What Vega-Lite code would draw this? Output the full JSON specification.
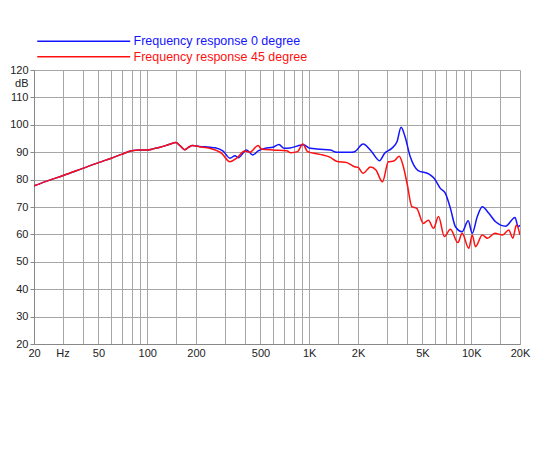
{
  "$schema": "https://vega.github.io/schema/vega-lite/v6.json",
  "width": 486,
  "height": 274,
  "autosize": {"type": "none"},
  "padding": {"left": 34, "top": 70, "right": 30, "bottom": 106},
  "background": "white",
  "data": {
    "values": [
      {"f": 20, "db": 77.7, "s": "Frequency response 0 degree"},
      {"f": 25, "db": 79.8, "s": "Frequency response 0 degree"},
      {"f": 30, "db": 81.4, "s": "Frequency response 0 degree"},
      {"f": 40, "db": 84.1, "s": "Frequency response 0 degree"},
      {"f": 50, "db": 86.2, "s": "Frequency response 0 degree"},
      {"f": 60, "db": 87.8, "s": "Frequency response 0 degree"},
      {"f": 70, "db": 89.3, "s": "Frequency response 0 degree"},
      {"f": 80, "db": 90.5, "s": "Frequency response 0 degree"},
      {"f": 90, "db": 90.8, "s": "Frequency response 0 degree"},
      {"f": 100, "db": 90.8, "s": "Frequency response 0 degree"},
      {"f": 110, "db": 91.3, "s": "Frequency response 0 degree"},
      {"f": 120, "db": 91.8, "s": "Frequency response 0 degree"},
      {"f": 130, "db": 92.4, "s": "Frequency response 0 degree"},
      {"f": 140, "db": 93.1, "s": "Frequency response 0 degree"},
      {"f": 150, "db": 93.5, "s": "Frequency response 0 degree"},
      {"f": 160, "db": 92.3, "s": "Frequency response 0 degree"},
      {"f": 170, "db": 90.9, "s": "Frequency response 0 degree"},
      {"f": 180, "db": 91.8, "s": "Frequency response 0 degree"},
      {"f": 190, "db": 92.4, "s": "Frequency response 0 degree"},
      {"f": 210, "db": 92.1, "s": "Frequency response 0 degree"},
      {"f": 244, "db": 91.8, "s": "Frequency response 0 degree"},
      {"f": 262, "db": 91.6, "s": "Frequency response 0 degree"},
      {"f": 294, "db": 90.4, "s": "Frequency response 0 degree"},
      {"f": 324, "db": 87.8, "s": "Frequency response 0 degree"},
      {"f": 348, "db": 88.7, "s": "Frequency response 0 degree"},
      {"f": 365, "db": 88.0, "s": "Frequency response 0 degree"},
      {"f": 410, "db": 90.8, "s": "Frequency response 0 degree"},
      {"f": 449, "db": 89.0, "s": "Frequency response 0 degree"},
      {"f": 484, "db": 90.5, "s": "Frequency response 0 degree"},
      {"f": 531, "db": 91.4, "s": "Frequency response 0 degree"},
      {"f": 598, "db": 91.8, "s": "Frequency response 0 degree"},
      {"f": 650, "db": 92.8, "s": "Frequency response 0 degree"},
      {"f": 700, "db": 91.4, "s": "Frequency response 0 degree"},
      {"f": 760, "db": 91.5, "s": "Frequency response 0 degree"},
      {"f": 846, "db": 92.3, "s": "Frequency response 0 degree"},
      {"f": 922, "db": 92.7, "s": "Frequency response 0 degree"},
      {"f": 1011, "db": 91.4, "s": "Frequency response 0 degree"},
      {"f": 1164, "db": 91.1, "s": "Frequency response 0 degree"},
      {"f": 1350, "db": 90.8, "s": "Frequency response 0 degree"},
      {"f": 1473, "db": 90.0, "s": "Frequency response 0 degree"},
      {"f": 1785, "db": 90.0, "s": "Frequency response 0 degree"},
      {"f": 1906, "db": 90.2, "s": "Frequency response 0 degree"},
      {"f": 2150, "db": 93.0, "s": "Frequency response 0 degree"},
      {"f": 2430, "db": 90.2, "s": "Frequency response 0 degree"},
      {"f": 2715, "db": 86.9, "s": "Frequency response 0 degree"},
      {"f": 2920, "db": 89.6, "s": "Frequency response 0 degree"},
      {"f": 3230, "db": 91.4, "s": "Frequency response 0 degree"},
      {"f": 3480, "db": 93.8, "s": "Frequency response 0 degree"},
      {"f": 3690, "db": 99.1, "s": "Frequency response 0 degree"},
      {"f": 3900, "db": 95.7, "s": "Frequency response 0 degree"},
      {"f": 4200, "db": 88.4, "s": "Frequency response 0 degree"},
      {"f": 4700, "db": 83.3, "s": "Frequency response 0 degree"},
      {"f": 5490, "db": 82.0, "s": "Frequency response 0 degree"},
      {"f": 5900, "db": 80.5, "s": "Frequency response 0 degree"},
      {"f": 6445, "db": 76.8, "s": "Frequency response 0 degree"},
      {"f": 6925, "db": 75.0, "s": "Frequency response 0 degree"},
      {"f": 7440, "db": 69.5, "s": "Frequency response 0 degree"},
      {"f": 7990, "db": 62.8, "s": "Frequency response 0 degree"},
      {"f": 8790, "db": 61.0, "s": "Frequency response 0 degree"},
      {"f": 9580, "db": 65.0, "s": "Frequency response 0 degree"},
      {"f": 10140, "db": 60.4, "s": "Frequency response 0 degree"},
      {"f": 10900, "db": 66.5, "s": "Frequency response 0 degree"},
      {"f": 11700, "db": 70.1, "s": "Frequency response 0 degree"},
      {"f": 12850, "db": 67.7, "s": "Frequency response 0 degree"},
      {"f": 14140, "db": 64.6, "s": "Frequency response 0 degree"},
      {"f": 16330, "db": 63.0, "s": "Frequency response 0 degree"},
      {"f": 18620, "db": 66.2, "s": "Frequency response 0 degree"},
      {"f": 19500, "db": 62.8, "s": "Frequency response 0 degree"},
      {"f": 20000, "db": 63.4, "s": "Frequency response 0 degree"},
      {"f": 20, "db": 77.7, "s": "Frequency response 45 degree"},
      {"f": 25, "db": 79.8, "s": "Frequency response 45 degree"},
      {"f": 30, "db": 81.4, "s": "Frequency response 45 degree"},
      {"f": 40, "db": 84.1, "s": "Frequency response 45 degree"},
      {"f": 50, "db": 86.2, "s": "Frequency response 45 degree"},
      {"f": 60, "db": 87.8, "s": "Frequency response 45 degree"},
      {"f": 70, "db": 89.3, "s": "Frequency response 45 degree"},
      {"f": 80, "db": 90.5, "s": "Frequency response 45 degree"},
      {"f": 90, "db": 90.8, "s": "Frequency response 45 degree"},
      {"f": 100, "db": 90.8, "s": "Frequency response 45 degree"},
      {"f": 110, "db": 91.3, "s": "Frequency response 45 degree"},
      {"f": 120, "db": 91.8, "s": "Frequency response 45 degree"},
      {"f": 130, "db": 92.4, "s": "Frequency response 45 degree"},
      {"f": 140, "db": 93.1, "s": "Frequency response 45 degree"},
      {"f": 150, "db": 93.5, "s": "Frequency response 45 degree"},
      {"f": 160, "db": 92.3, "s": "Frequency response 45 degree"},
      {"f": 170, "db": 90.9, "s": "Frequency response 45 degree"},
      {"f": 180, "db": 91.8, "s": "Frequency response 45 degree"},
      {"f": 190, "db": 92.4, "s": "Frequency response 45 degree"},
      {"f": 210, "db": 92.0, "s": "Frequency response 45 degree"},
      {"f": 244, "db": 91.4, "s": "Frequency response 45 degree"},
      {"f": 288, "db": 89.6, "s": "Frequency response 45 degree"},
      {"f": 324, "db": 86.5, "s": "Frequency response 45 degree"},
      {"f": 356, "db": 87.8, "s": "Frequency response 45 degree"},
      {"f": 400, "db": 90.4, "s": "Frequency response 45 degree"},
      {"f": 429, "db": 90.0, "s": "Frequency response 45 degree"},
      {"f": 484, "db": 92.4, "s": "Frequency response 45 degree"},
      {"f": 506, "db": 91.2, "s": "Frequency response 45 degree"},
      {"f": 598, "db": 90.8, "s": "Frequency response 45 degree"},
      {"f": 727, "db": 90.5, "s": "Frequency response 45 degree"},
      {"f": 770, "db": 89.8, "s": "Frequency response 45 degree"},
      {"f": 846, "db": 90.2, "s": "Frequency response 45 degree"},
      {"f": 913, "db": 93.0, "s": "Frequency response 45 degree"},
      {"f": 977, "db": 90.2, "s": "Frequency response 45 degree"},
      {"f": 1164, "db": 89.2, "s": "Frequency response 45 degree"},
      {"f": 1350, "db": 88.1, "s": "Frequency response 45 degree"},
      {"f": 1473, "db": 86.7, "s": "Frequency response 45 degree"},
      {"f": 1709, "db": 86.2, "s": "Frequency response 45 degree"},
      {"f": 1906, "db": 84.7, "s": "Frequency response 45 degree"},
      {"f": 2000, "db": 84.5, "s": "Frequency response 45 degree"},
      {"f": 2150, "db": 82.3, "s": "Frequency response 45 degree"},
      {"f": 2389, "db": 84.6, "s": "Frequency response 45 degree"},
      {"f": 2580, "db": 83.5, "s": "Frequency response 45 degree"},
      {"f": 2830, "db": 79.2, "s": "Frequency response 45 degree"},
      {"f": 3080, "db": 86.5, "s": "Frequency response 45 degree"},
      {"f": 3330, "db": 86.8, "s": "Frequency response 45 degree"},
      {"f": 3590, "db": 88.5, "s": "Frequency response 45 degree"},
      {"f": 3780, "db": 85.5, "s": "Frequency response 45 degree"},
      {"f": 4020, "db": 78.5, "s": "Frequency response 45 degree"},
      {"f": 4300, "db": 70.1, "s": "Frequency response 45 degree"},
      {"f": 4610, "db": 69.5, "s": "Frequency response 45 degree"},
      {"f": 5060, "db": 64.0, "s": "Frequency response 45 degree"},
      {"f": 5440, "db": 65.2, "s": "Frequency response 45 degree"},
      {"f": 5850, "db": 62.2, "s": "Frequency response 45 degree"},
      {"f": 6280, "db": 66.5, "s": "Frequency response 45 degree"},
      {"f": 6830, "db": 59.2, "s": "Frequency response 45 degree"},
      {"f": 7440, "db": 61.9, "s": "Frequency response 45 degree"},
      {"f": 8270, "db": 57.0, "s": "Frequency response 45 degree"},
      {"f": 8790, "db": 60.4, "s": "Frequency response 45 degree"},
      {"f": 9660, "db": 54.9, "s": "Frequency response 45 degree"},
      {"f": 10140, "db": 59.8, "s": "Frequency response 45 degree"},
      {"f": 10630, "db": 55.5, "s": "Frequency response 45 degree"},
      {"f": 11700, "db": 59.8, "s": "Frequency response 45 degree"},
      {"f": 12600, "db": 58.6, "s": "Frequency response 45 degree"},
      {"f": 13980, "db": 60.4, "s": "Frequency response 45 degree"},
      {"f": 15600, "db": 59.8, "s": "Frequency response 45 degree"},
      {"f": 17050, "db": 61.6, "s": "Frequency response 45 degree"},
      {"f": 18070, "db": 58.6, "s": "Frequency response 45 degree"},
      {"f": 19000, "db": 63.4, "s": "Frequency response 45 degree"},
      {"f": 20000, "db": 59.8, "s": "Frequency response 45 degree"}
    ]
  },
  "mark": {"type": "line", "strokeWidth": 1.5, "interpolate": "monotone", "clip": true},
  "encoding": {
    "x": {
      "field": "f",
      "type": "quantitative",
      "scale": {"type": "log", "domain": [20, 20000], "nice": false},
      "axis": {
        "title": null,
        "values": [20, 30, 40, 50, 60, 70, 80, 90, 100, 150, 200, 300, 400, 500, 600, 700, 800, 900, 1000, 1500, 2000, 3000, 4000, 5000, 6000, 7000, 8000, 9000, 10000, 15000, 20000],
        "labelExpr": "datum.value == 30 ? 'Hz' : (indexof([20, 50, 100, 200, 500], datum.value) >= 0 ? toString(datum.value) : (indexof([1000, 2000, 5000, 10000, 20000], datum.value) >= 0 ? toString(datum.value / 1000) + 'K' : ''))",
        "labelFlush": false,
        "labelOverlap": false,
        "labelBound": false,
        "labelPadding": 3,
        "ticks": false
      }
    },
    "y": {
      "field": "db",
      "type": "quantitative",
      "scale": {"domain": [20, 120], "nice": false, "zero": false},
      "axis": {
        "title": null,
        "values": [20, 30, 40, 50, 60, 70, 80, 90, 100, 110, 115, 120],
        "labelExpr": "datum.value == 115 ? 'dB' : toString(datum.value)",
        "gridOpacity": {"condition": {"test": "datum.value == 115", "value": 0}, "value": 1},
        "tickOpacity": {"condition": {"test": "datum.value == 115", "value": 0}, "value": 1},
        "tickSize": 4,
        "labelPadding": 2
      }
    },
    "color": {
      "field": "s",
      "type": "nominal",
      "scale": {"domain": ["Frequency response 0 degree", "Frequency response 45 degree"], "range": ["#1414ff", "#ff1010"]},
      "legend": {
        "title": null,
        "orient": "none",
        "legendX": -3,
        "legendY": -35,
        "symbolType": "M0,0H41.3",
        "symbolSize": 20.25,
        "symbolStrokeWidth": 1.5,
        "labelOffset": 90,
        "labelFontSize": 12.5,
        "labelFont": "Liberation Sans",
        "rowPadding": 2.5,
        "labelLimit": 300,
        "encode": {"labels": {"update": {"fill": {"scale": "color", "field": "value"}}}}
      }
    }
  },
  "config": {
    "view": {"stroke": null},
    "axis": {
      "gridColor": "#a6a6a6",
      "gridWidth": 1,
      "gridOpacity": 1,
      "domainColor": "#888888",
      "tickColor": "#888888",
      "labelFont": "Liberation Sans",
      "labelFontSize": 11,
      "labelColor": "#222222"
    }
  }
}
